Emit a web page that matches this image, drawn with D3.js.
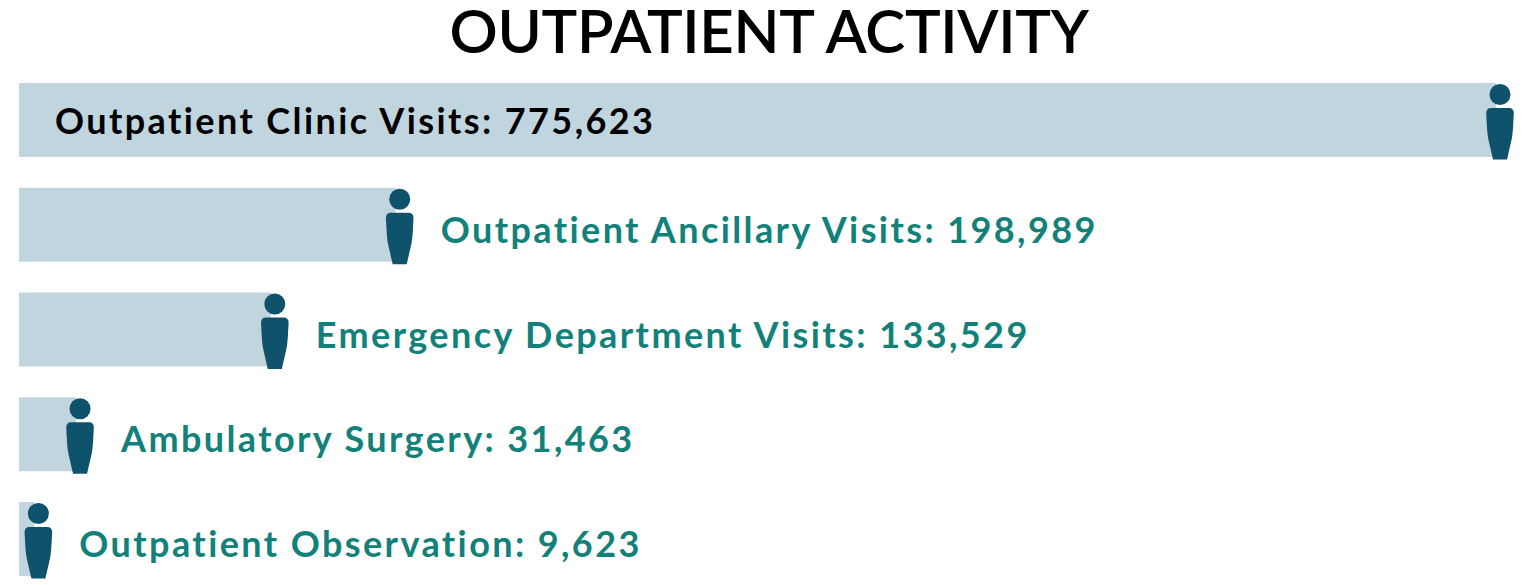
<!DOCTYPE html>
<html>
<head>
<meta charset="utf-8">
<script src="https://cdn.jsdelivr.net/npm/d3@7"></script>
<style>
  html, body { margin: 0; padding: 0; background: #ffffff; }
  svg text { font-family: "Lato", "Open Sans", sans-serif; }
</style>
</head>
<body>
<div id="chart"></div>
<script>
var width = 1533,
  height = 585;

// chart data
var categories = ["Outpatient Clinic Visits", "Outpatient Ancillary Visits", "Emergency Department Visits", "Ambulatory Surgery", "Outpatient Observation"];
var visits = [775623, 198989, 133529, 31463, 9623];
var titleText = "OUTPATIENT ACTIVITY";

var rows = categories.map((c, i) => ({ name: c, value: visits[i] }));

var svg = d3.select("#chart")
  .append("svg")
  .attr("width", width)
  .attr("height", height);

// Title
svg.append("text")
  .attr("x", 769)
  .attr("y", 53)
  .attr("text-anchor", "middle")
  .style("font-size", "60px")
  .style("font-weight", 600)
  .style("letter-spacing", "-0.3px")
  .style("fill", "#000000")
  .text(titleText);

// X scale: icon centre sits on the value
var xScale = d3.scaleLinear()
  .domain([0, d3.max(visits)])
  .range([20, 1500]);

// Y scale for the rows
var yScale = d3.scaleBand()
  .domain(categories)
  .range([83, 576])
  .paddingInner(0.294)
  .paddingOuter(0);

var barLeft = 19;

var rowG = svg.selectAll(".row")
  .data(rows)
  .enter()
  .append("g")
  .attr("class", "row")
  .attr("transform", d => `translate(0,${yScale(d.name)})`);

// bars
rowG.append("rect")
  .attr("x", barLeft)
  .attr("y", 0)
  .attr("width", d => Math.max(0, xScale(d.value) - 4 - barLeft))
  .attr("height", yScale.bandwidth())
  .attr("fill", "#c1d5df");

// person icon
var personBody = "M-9,24 Q-13.8,24 -13.8,29.5 L-13,44 Q-12.4,52 -11.5,56 L-7,75.5 L7,75.5 L11.5,56 Q12.4,52 13,44 L13.8,29.5 Q13.8,24 9,24 Z";

var icon = rowG.append("g")
  .attr("class", "person")
  .attr("transform", d => `translate(${xScale(d.value)},1)`);

icon.append("circle")
  .attr("cx", 0)
  .attr("cy", 10.5)
  .attr("r", 10.5)
  .attr("fill", "#0f526b");

icon.append("path")
  .attr("d", personBody)
  .attr("fill", "#0f526b");

// labels: first one sits inside the bar, the rest follow the icon
rowG.append("text")
  .attr("x", (d, i) => i === 0 ? 55 : xScale(d.value) + 41)
  .attr("y", (d, i) => i === 0 ? 51 : 55)
  .style("font-size", "36px")
  .style("font-weight", 700)
  .style("letter-spacing", "2.4px")
  .style("fill", (d, i) => i === 0 ? "#000000" : "#11817a")
  .text(d => `${d.name}: ${d3.format(",")(d.value)}`);
</script>
</body>
</html>
